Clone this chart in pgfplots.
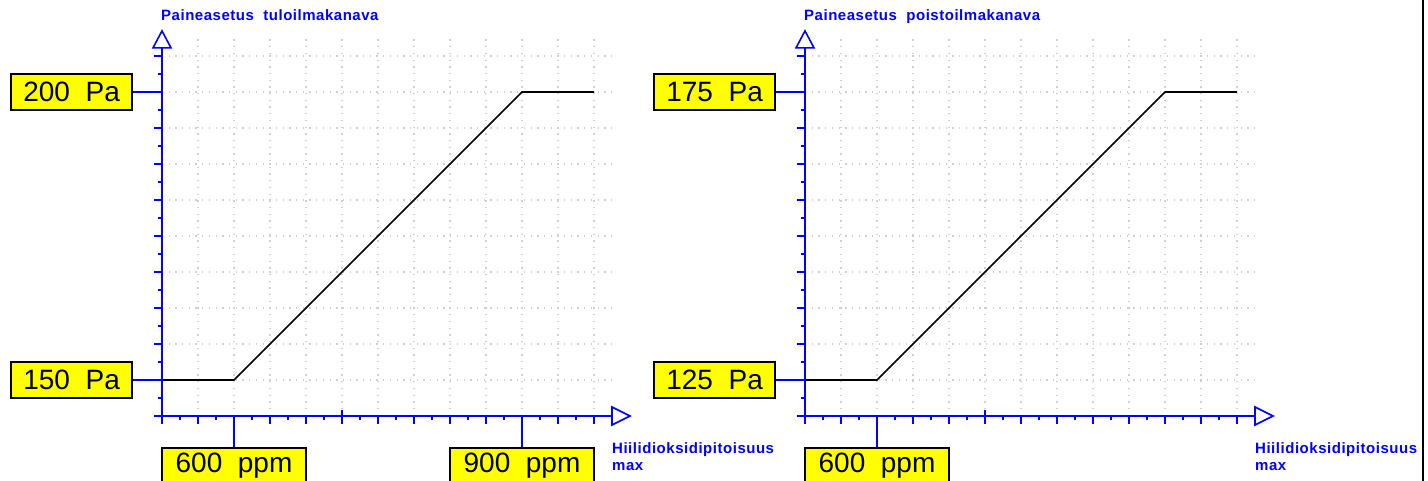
\documentclass[border=0pt]{standalone}
\usepackage{fontspec}
\setmainfont{Liberation Sans}
\usepackage{pgfplots}
\pgfplotsset{compat=1.18}
\definecolor{cadblue}{RGB}{0,0,255}
\definecolor{cadyellow}{RGB}{255,255,0}
\definecolor{griddot}{RGB}{208,208,208}

\pgfplotsset{
  cadaxis/.style={
    scale only axis, width=450pt, height=378pt,
    xmin=0, xmax=25, ymin=0, ymax=21,
    axis x line=bottom, axis y line=left,
    axis line style={draw=none},
    xtick={0,2,...,24}, ytick={0,2,...,20},
    minor xtick={1,3,...,23}, minor ytick={1,3,...,19},
    xticklabels={}, yticklabels={},
    tick align=outside,
    major tick length=8pt, minor tick length=4pt,
    tick style={cadblue, line width=1.6pt},
    xmajorgrids, ymajorgrids,
    major grid style={griddot, line width=1.3pt, dash pattern=on 1.3pt off 5.4pt},
    clip=false,
  },
}
\tikzset{
  ybox/.style={draw=black, text=black, line width=1.8pt, fill=cadyellow, minimum width=121pt,
    minimum height=36pt, inner sep=0pt, font=\fontsize{28}{28}\selectfont},
  xbox/.style={draw=black, text=black, line width=1.8pt, fill=cadyellow, minimum width=144pt,
    minimum height=36pt, inner sep=0pt, font=\fontsize{28}{28}\selectfont},
  cadline/.style={cadblue, line width=1.6pt},
  cadtext/.style={anchor=base west, text=cadblue, inner sep=0pt, align=left,
    font=\fontsize{15}{17}\selectfont\bfseries\addfontfeatures{LetterSpace=3.5}},
}

\newcommand{\cadaxes}{%
  \draw[cadline] (axis cs:0,0) -- (axis cs:25,0);
  \draw[cadline, fill=white, line join=miter] (axis cs:25,0) ++(0,9pt) -- ++(18pt,-9pt) -- ++(-18pt,-9pt) -- cycle;
  \draw[cadline] (axis cs:0,0) -- (axis cs:0,20.45);
  \draw[cadline, fill=white, line join=miter] (axis cs:0,20.45) ++(-9pt,0) -- ++(9pt,17pt) -- ++(9pt,-17pt) -- cycle;
  \draw[cadline] (axis cs:10,0) -- ++(0,6pt);
}

\begin{document}
\begin{tikzpicture}
\useasboundingbox (0,0) rectangle (1428pt,481pt);

% left chart
\begin{axis}[cadaxis, at={(162pt,65pt)}, anchor=south west]
  \addplot[black, line width=1.6pt] coordinates {(0,2) (4,2) (20,18) (24,18)};
  \cadaxes
  \draw[cadline] (axis cs:0,18) -- ++(-29pt,0) node[ybox, anchor=east] {200\ \ Pa};
  \draw[cadline] (axis cs:0,2) -- ++(-29pt,0) node[ybox, anchor=east] {150\ \ Pa};
  \draw[cadline] (axis cs:4,0) -- ++(0,-31pt) node[xbox, anchor=north] {600\ \ ppm};
  \draw[cadline] (axis cs:20,0) -- ++(0,-31pt) node[xbox, anchor=north] {900\ \ ppm};
\end{axis}

% right chart
\begin{axis}[cadaxis, at={(805pt,65pt)}, anchor=south west]
  \addplot[black, line width=1.6pt] coordinates {(0,2) (4,2) (20,18) (24,18)};
  \cadaxes
  \draw[cadline] (axis cs:0,18) -- ++(-29pt,0) node[ybox, anchor=east] {175\ \ Pa};
  \draw[cadline] (axis cs:0,2) -- ++(-29pt,0) node[ybox, anchor=east] {125\ \ Pa};
  \draw[cadline] (axis cs:4,0) -- ++(0,-31pt) node[xbox, anchor=north] {600\ \ ppm};
\end{axis}

\node[cadtext] at (161pt,460pt) {Paineasetus\ \ tuloilmakanava};
\node[cadtext] at (804pt,460pt) {Paineasetus\ \ poistoilmakanava};
\node[cadtext] at (612pt,10pt) {Hiilidioksidipitoisuus\\max};
\node[cadtext] at (1255pt,10pt) {Hiilidioksidipitoisuus\\max};

\draw[black, line width=2.5pt] (1423pt,0) -- (1423pt,481pt);
\end{tikzpicture}
\end{document}
